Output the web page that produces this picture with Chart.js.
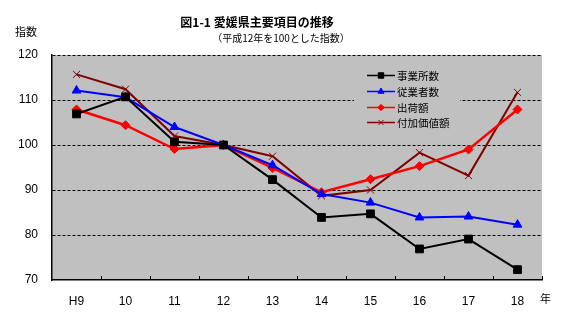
<!DOCTYPE html>
<html lang="ja">
<head>
<meta charset="utf-8">
<script src="https://cdn.jsdelivr.net/npm/chart.js@4/dist/chart.umd.min.js"></script>
<style>
  html, body { margin: 0; padding: 0; background: #ffffff; }
  #wrap { width: 578px; height: 326px; }
</style>
</head>
<body>
<div id="wrap"><canvas id="c" width="578" height="326"></canvas></div>
<script>
// 年次（平成）
const years = ['H9', '10', '11', '12', '13', '14', '15', '16', '17', '18'];
// 平成12年 = 100 とした指数
const establishments = [106.9, 110.7, 100.7, 100, 92.3, 83.9, 84.7, 76.9, 79.1, 72.3]; // 事業所数
const employees      = [112.1, 110.6, 104.0, 100, 95.5, 89.1, 87.2, 83.9, 84.1, 82.3]; // 従業者数
const shipments      = [107.9, 104.4, 99.1, 100, 94.9, 89.5, 92.4, 95.3, 99.0, 107.9]; // 出荷額
const valueAdded     = [115.7, 112.4, 102.0, 100, 97.5, 88.7, 90.0, 98.3, 93.2, 111.7]; // 付加価値額
const yTicks = [70, 80, 90, 100, 110, 120];

const JP = "'Noto Sans CJK JP', sans-serif";
const NUM = "'Liberation Sans', Arial, sans-serif";
const PLOT_BG = '#c0c0c0';

const seriesDefs = [
  { label: '事業所数',   data: establishments, color: '#000000', style: 'rect',    radius: 5.5, width: 2 },
  { label: '従業者数',   data: employees,      color: '#0000ff', style: 'triangle', radius: 5,  width: 2 },
  { label: '出荷額',     data: shipments,      color: '#ff0000', style: 'rectRot', radius: 4.5, width: 2.5 },
  { label: '付加価値額', data: valueAdded,     color: '#800000', style: 'crossRot', radius: 5,  width: 2 }
];

// 描画領域の背景
const plotBackground = {
  id: 'plotBackground',
  beforeDraw(chart) {
    const { ctx, chartArea: a } = chart;
    ctx.save();
    ctx.fillStyle = PLOT_BG;
    ctx.fillRect(a.left, a.top, a.right - a.left, a.bottom - a.top);
    ctx.restore();
  }
};

// 横軸の目盛り（区切り位置に内向き）
const innerTicks = {
  id: 'innerTicks',
  afterDraw(chart) {
    const { ctx, chartArea: a } = chart;
    const step = (a.right - a.left) / years.length;
    ctx.save();
    ctx.strokeStyle = '#000';
    ctx.lineWidth = 1;
    ctx.beginPath();
    for (let i = 1; i <= years.length; i++) {
      const px = Math.round(a.left + step * i) + 0.5;
      ctx.moveTo(px, a.bottom);
      ctx.lineTo(px, a.bottom - 4);
    }
    ctx.stroke();
    ctx.restore();
  }
};

// 表題・単位・凡例
const annotations = {
  id: 'annotations',
  afterDatasetsDraw(chart) {
    const { ctx } = chart;
    ctx.save();
    ctx.fillStyle = '#000';
    ctx.textBaseline = 'middle';

    ctx.textAlign = 'center';
    ctx.font = 'bold 12px ' + JP;
    ctx.fillText('図1-1 愛媛県主要項目の推移', 257, 22);
    ctx.font = '10px ' + JP;
    ctx.fillText('（平成12年を100とした指数）', 281, 38);

    ctx.textAlign = 'left';
    ctx.font = '11px ' + JP;
    ctx.fillText('指数', 15, 32);
    ctx.fillText('年', 540, 299);

    // 凡例
    ctx.fillStyle = PLOT_BG;
    ctx.fillRect(354, 64, 106, 68);
    const rowY = [75, 91, 107, 122];
    seriesDefs.forEach((s, i) => {
      const y = rowY[i];
      ctx.strokeStyle = s.color;
      ctx.lineWidth = 1.5;
      ctx.beginPath();
      ctx.moveTo(367, y + 0.5);
      ctx.lineTo(395, y + 0.5);
      ctx.stroke();
      ctx.fillStyle = s.color;
      ctx.lineWidth = 1;
      Chart.helpers.drawPoint(ctx, { pointStyle: s.style, radius: s.radius * 0.7, borderWidth: 1 }, 381, y + 0.5);
      ctx.fillStyle = '#000';
      ctx.font = '10.5px ' + JP;
      ctx.fillText(s.label, 397, y + 1);
    });
    ctx.restore();
  }
};

new Chart(document.getElementById('c'), {
  type: 'line',
  data: {
    labels: years,
    datasets: seriesDefs.map(s => ({
      label: s.label,
      data: s.data,
      borderColor: s.color,
      backgroundColor: s.color,
      borderWidth: s.width,
      pointStyle: s.style,
      pointRadius: s.radius,
      pointBorderWidth: 1,
      pointBorderColor: s.color,
      pointBackgroundColor: s.color,
      tension: 0,
      fill: false
    }))
  },
  options: {
    responsive: false,
    animation: false,
    devicePixelRatio: 1,
    layout: { padding: { left: 0, right: 36, top: 55, bottom: 0 } },
    plugins: { legend: { display: false }, title: { display: false }, tooltip: { enabled: false } },
    scales: {
      x: {
        type: 'category',
        offset: true,
        grid: { display: false, drawTicks: false },
        border: { display: true, color: '#000', width: 1.5 },
        ticks: { color: '#000', font: { family: NUM, size: 12 }, padding: 14, maxRotation: 0 },
        afterFit(s) { s.height = 46; }
      },
      y: {
        min: 70,
        max: 120,
        afterBuildTicks(s) { s.ticks = yTicks.map(v => ({ value: v })); },
        grid: {
          color: ctx => (ctx.tick && ctx.tick.value === 70) ? 'rgba(0,0,0,0)' : '#000',
          lineWidth: 1,
          drawTicks: false
        },
        border: { display: true, color: '#000', width: 1.5, dash: [3, 2] },
        ticks: { color: '#000', font: { family: NUM, size: 12 }, padding: 14 },
        afterFit(s) { s.width = 52; }
      }
    }
  },
  plugins: [plotBackground, innerTicks, annotations]
});
</script>
</body>
</html>
